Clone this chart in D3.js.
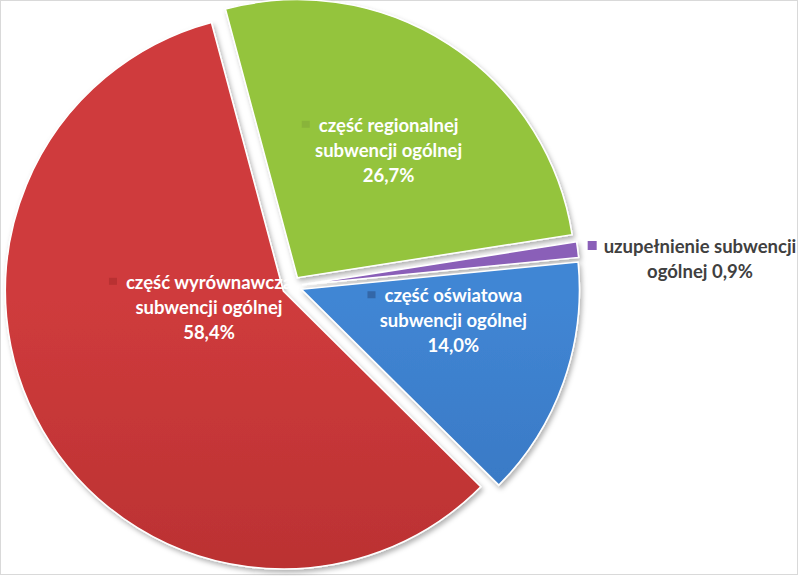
<!DOCTYPE html>
<html><head><meta charset="utf-8">
<script src="https://cdn.jsdelivr.net/npm/d3@7"></script>
<style>html,body{margin:0;padding:0;background:#fff;}svg{display:block;}</style>
</head><body>
<script>
const categories = ["część regionalnej subwencji ogólnej", "uzupełnienie subwencji ogólnej", "część oświatowa subwencji ogólnej", "część wyrównawcza subwencji ogólnej"];
const values = [26.7, 0.9, 14.0, 58.4];
const valueLabels = ["26,7%", "0,9%", "14,0%", "58,4%"];
const labelLines = [["część regionalnej", "subwencji ogólnej", "26,7%"], ["uzupełnienie subwencji", "ogólnej 0,9%"], ["część oświatowa", "subwencji ogólnej", "14,0%"], ["część wyrównawcza", "subwencji ogólnej", "58,4%"]];
const colorsTop = ["#94c43e", "#8a5fb8", "#4186d4", "#cf3b3c"];
const colorsBot = ["#7c9f31", "#6d4596", "#2a62aa", "#a62828"];
const keyColors = ["#86b03a", "#7a52a8", "#2f5f9c", "#b33030"];

const W = 800, H = 576;
const cx = 292, cy = 286, R = 278, explode = 10;
const startDeg = -15;

const svg = d3.select("body").append("svg").attr("width", W).attr("height", H);
const defs = svg.append("defs");
const f = defs.append("filter").attr("id", "sh").attr("x", "-10%").attr("y", "-10%").attr("width", "120%").attr("height", "120%");
f.append("feDropShadow").attr("dx", 2).attr("dy", 3).attr("stdDeviation", 2.5).attr("flood-color", "#000").attr("flood-opacity", 0.3);

svg.append("rect").attr("x", 0.5).attr("y", 0.5).attr("width", W - 3).attr("height", H - 2)
  .attr("fill", "#fff").attr("stroke", "#d9d9d9");

values.forEach((v, i) => {
  const g = defs.append("linearGradient").attr("id", "g" + i)
    .attr("gradientUnits", "userSpaceOnUse").attr("x1", 0).attr("y1", cy - R).attr("x2", 0).attr("y2", cy + R);
  g.append("stop").attr("offset", "0%").attr("stop-color", colorsTop[i]);
  g.append("stop").attr("offset", "100%").attr("stop-color", colorsBot[i]);
});

const pie = d3.pie().sort(null).value(d => d)
  .startAngle(startDeg * Math.PI / 180).endAngle((startDeg + 360) * Math.PI / 180);
const arcs = pie(values);
const arc = d3.arc().innerRadius(0).outerRadius(R);

const sliceG = svg.append("g");
arcs.forEach((a, i) => {
  const mid = (a.startAngle + a.endAngle) / 2;
  const ox = cx + explode * Math.sin(mid), oy = cy - explode * Math.cos(mid);
  a.ox = ox; a.oy = oy;
  sliceG.append("path")
    .attr("d", arc(a))
    .attr("transform", `translate(${ox},${oy})`)
    .attr("fill", `url(#g${i})`)
    .attr("stroke", "#fff").attr("stroke-width", 1.5)
    .attr("filter", "url(#sh)");
});

// label placement (polar offsets relative to each slice's center)
const labelPolar = [{a: 35.5, r: 157}, null, {a: 101.5, r: 155}, {a: 258, r: 76}];
const font = "Lato, 'Open Sans', sans-serif";
const fs = 18.5, lh = 25;

arcs.forEach((a, i) => {
  const lp = labelPolar[i];
  if (!lp) return;
  const ang = lp.a * Math.PI / 180;
  const lx = a.ox + lp.r * Math.sin(ang), ly = a.oy - lp.r * Math.cos(ang);
  const lines = labelLines[i];
  const tg = svg.append("g");
  lines.forEach((t, k) => {
    tg.append("text")
      .attr("x", lx).attr("y", ly + (k - (lines.length - 1) / 2) * lh)
      .attr("text-anchor", "middle").attr("dominant-baseline", "central")
      .attr("font-family", font).attr("font-weight", "bold").attr("font-size", fs)
      .attr("fill", "#fff").text(t);
  });
  const first = tg.select("text").node();
  const bb = first.getBBox();
  tg.append("rect").attr("x", bb.x - 17).attr("y", ly - lh - 4).attr("width", 8).attr("height", 7)
    .attr("fill", keyColors[i]).attr("opacity", 0.8);
});

// outside label for the small slice
{
  const lx = 700, ly = 246;
  const lines = labelLines[1];
  lines.forEach((t, k) => {
    svg.append("text").attr("class", "ol")
      .attr("x", lx).attr("y", ly + k * 25)
      .attr("text-anchor", "middle").attr("dominant-baseline", "central")
      .attr("font-family", font).attr("font-weight", "bold").attr("font-size", fs)
      .attr("fill", "#404040").text(t);
  });
  const bb = svg.select("text.ol").node().getBBox();
  svg.append("rect").attr("x", bb.x - 16).attr("y", ly - 5).attr("width", 9).attr("height", 9)
    .attr("fill", colorsTop[1]);
}
</script>
</body></html>
